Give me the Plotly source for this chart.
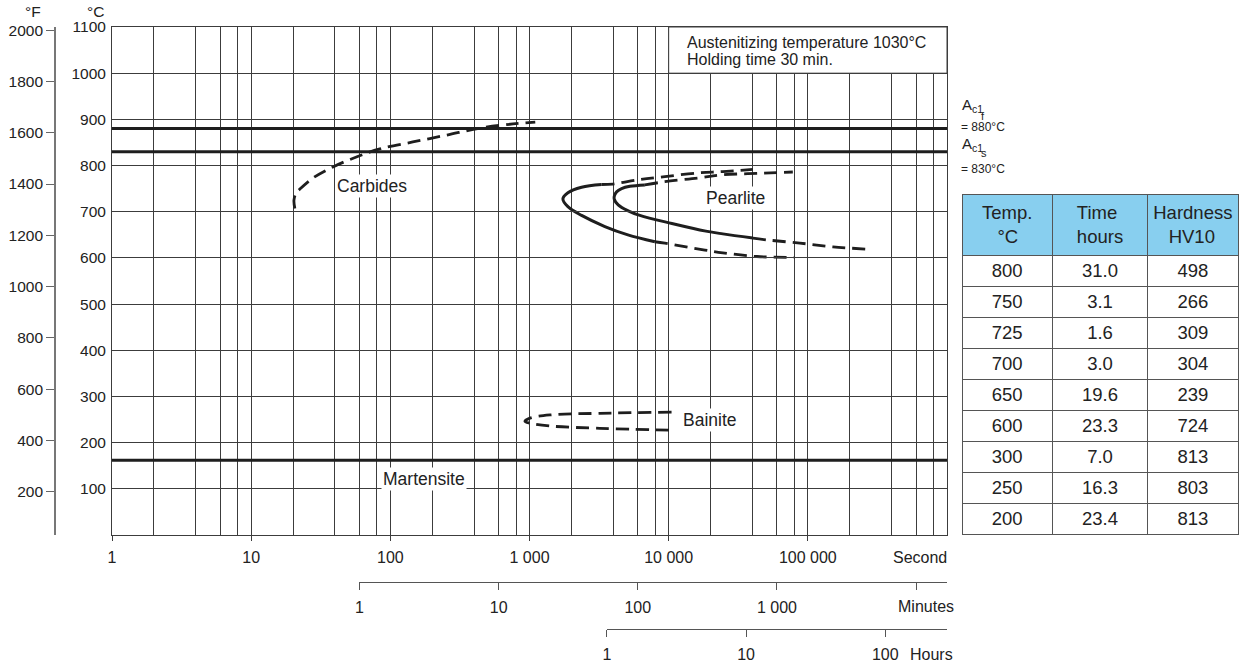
import math
import plotly.graph_objects as go

W, H = 1241, 663

# ---------------- data ----------------
x_tick_vals = [1, 10, 100, 1000, 10000, 100000]
x_tick_text = ["1", "10", "100", "1 000", "10 000", "100 000"]
x_minor_grid = [m * 10 ** e for e in range(0, 6) for m in (2, 4, 6, 8)]
y_tick_vals = [100, 200, 300, 400, 500, 600, 700, 800, 900, 1000, 1100]
f_tick_vals = [200, 400, 600, 800, 1000, 1200, 1400, 1600, 1800, 2000]
min_tick_vals = [1, 10, 100, 1000, 10000]
min_tick_text = ["1", "10", "100", "1 000", " "]
hour_tick_vals = [1, 10, 100]
hour_tick_text = ["1", "10", "100"]

ac1f = 880
ac1s = 830
ms = 162

carb_t = [20.6, 20.3, 21.0, 22.4, 27.8, 38.7, 57.6, 84, 145, 255, 440, 760, 1100]
carb_T = [707, 725, 740, 749, 773, 797, 819, 836, 851, 866, 881, 890, 894]

pear_out_solid_t = [3296, 2367, 1888, 1738, 1888, 2367, 3480, 5093, 7962]
pear_out_solid_T = [759, 753, 741, 728, 711, 692, 668, 650, 635]
pear_out_up_t = [3296, 3973, 6010, 9393, 16220, 24500, 40270]
pear_out_up_T = [759, 760, 769, 776, 784, 787, 791.5]
pear_out_lo_t = [7962, 9393, 18200, 24500, 43030, 80000]
pear_out_lo_T = [635, 632, 617, 611, 603, 601]

pear_in_solid_t = [6745, 5265, 4590, 4225, 4080, 4058, 4337, 5117, 6210, 10550, 18500, 24500, 40270]
pear_in_solid_T = [758, 755, 750, 743, 735, 728, 715, 702, 692, 674.5, 658, 652, 643]
pear_in_up_t = [6745, 9393, 16220, 24500, 43030, 78000]
pear_in_up_T = [758, 765, 773, 780, 783, 786]
pear_in_lo_t = [40270, 50750, 87640, 151300, 265300]
pear_in_lo_T = [643, 639, 632, 624, 619]

bain_t = [10490, 3206, 1402, 1007, 927, 1007, 1402, 3206, 10490]
bain_T = [266, 263.5, 260, 253, 246, 242, 236, 231, 227]

NB = "\u00a0"
table_header = ["Temp.<br>" + NB * 3 + "°C", "Time<br>hours", "Hardness<br>" + NB * 3 + "HV10"]
table_temp = [800, 750, 725, 700, 650, 600, 300, 250, 200]
table_time = ["31.0", "3.1", "1.6", "3.0", "19.6", "23.3", "7.0", "16.3", "23.4"]
table_hv = [498, 266, 309, 304, 239, 724, 813, 803, 813]

# ---------------- layout helpers (pixel -> paper) ----------------
PL, PR, PT, PB = 112, 947, 27, 535


def px(x):
    return x / W


def py(y):
    return 1 - y / H


INK = "#1e1e1e"
GRID = "#3c3c3c"
FONT = "Liberation Sans, Arial, sans-serif"
DASH = "13px,7px"

fig = go.Figure()


def curve(t, T, dash=None, width=3):
    fig.add_trace(go.Scatter(
        x=t, y=T, mode="lines", line_shape="spline",
        line=dict(color=INK, width=width, dash=dash),
        hoverinfo="skip", showlegend=False))


# horizontal thick lines
for level in (ac1f, ac1s, ms):
    fig.add_trace(go.Scatter(x=[1, 1e6], y=[level, level], mode="lines",
                             line=dict(color=INK, width=3),
                             hoverinfo="skip", showlegend=False))

curve(carb_t, carb_T, dash=DASH, width=2.8)
curve(pear_out_solid_t, pear_out_solid_T)
curve(pear_out_up_t, pear_out_up_T, dash=DASH, width=2.8)
curve(pear_out_lo_t, pear_out_lo_T, dash=DASH, width=2.8)
curve(pear_in_solid_t, pear_in_solid_T)
curve(pear_in_up_t, pear_in_up_T, dash=DASH, width=2.8)
curve(pear_in_lo_t, pear_in_lo_T, dash=DASH, width=2.8)
curve(bain_t, bain_T, dash=DASH, width=2.8)

# dummy traces so the extra axes render
fig.add_trace(go.Scatter(x=[1], y=[0], xaxis="x2", yaxis="y", mode="markers",
                         marker=dict(opacity=0), hoverinfo="skip", showlegend=False))
fig.add_trace(go.Scatter(x=[1], y=[0], xaxis="x3", yaxis="y", mode="markers",
                         marker=dict(opacity=0), hoverinfo="skip", showlegend=False))
fig.add_trace(go.Scatter(x=[1], y=[100], xaxis="x", yaxis="y2", mode="markers",
                         marker=dict(opacity=0), hoverinfo="skip", showlegend=False))

# table
fig.add_trace(go.Table(
    domain=dict(x=[px(962), px(1238)], y=[py(536), py(194)]),
    columnwidth=[90, 95, 90],
    header=dict(values=table_header,
                fill_color="#88CFEF", line=dict(color="#555", width=1),
                align="center", height=60,
                font=dict(family=FONT, size=18.5, color="#222")),
    cells=dict(values=[table_temp, table_time, table_hv],
               fill_color="white", line=dict(color="#555", width=1),
               align="center", height=31,
               font=dict(family=FONT, size=18.5, color="#222")),
))

x_dom = [px(PL), px(PR)]
y_dom = [py(PB), py(PT)]

fig.update_layout(
    width=W, height=H, autosize=False,
    margin=dict(l=0, r=0, t=0, b=0, pad=0),
    paper_bgcolor="white", plot_bgcolor="rgba(0,0,0,0)",
    font=dict(family=FONT, size=16, color="#222"),
    showlegend=False,
    xaxis=dict(type="log", domain=x_dom, range=[0, 6], anchor="y", automargin=False,
               tickmode="array", tickvals=x_tick_vals, ticktext=x_tick_text,
               ticks="outside", ticklen=5, tickcolor=GRID, tickwidth=1,
               showgrid=True, gridcolor=GRID, gridwidth=1,
               minor=dict(tickmode="array", tickvals=x_minor_grid, showgrid=True,
                          gridcolor=GRID, gridwidth=1, ticks=""),
               showline=True, mirror=True, linecolor=GRID, linewidth=1,
               zeroline=False, tickfont=dict(size=16), ticklabelstandoff=3),
    yaxis=dict(domain=y_dom, range=[0, 1100], anchor="x", automargin=False,
               tickmode="array", tickvals=y_tick_vals,
               ticks="", showgrid=True, gridcolor=GRID, gridwidth=1,
               showline=True, mirror=True, linecolor=GRID, linewidth=1,
               zeroline=False, tickfont=dict(size=15.5), ticklabelstandoff=2),
    yaxis2=dict(overlaying="y", anchor="free", position=px(55), side="left",
                range=[32, 32 + 1100 * 1.8], automargin=False,
                tickmode="array", tickvals=f_tick_vals,
                ticks="outside", ticklen=8, tickcolor="#666", tickwidth=1.2,
                showline=True, linecolor="#777", linewidth=1.6,
                showgrid=False, zeroline=False, tickfont=dict(size=15.5)),
    xaxis2=dict(type="log", domain=[px(PL + math.log10(60) * (PR - PL) / 6), px(PR)],
                range=[0, 6 - math.log10(60)], anchor="free", position=py(582),
                automargin=False,
                tickmode="array", tickvals=min_tick_vals, ticktext=min_tick_text,
                ticks="outside", ticklen=7, tickcolor="#555",
                showline=True, linecolor="#555", linewidth=1,
                showgrid=False, zeroline=False, tickfont=dict(size=16),
                ticklabelstandoff=4),
    xaxis3=dict(type="log", domain=[px(PL + math.log10(3600) * (PR - PL) / 6), px(PR)],
                range=[0, 6 - math.log10(3600)], anchor="free", position=py(629),
                automargin=False,
                tickmode="array", tickvals=hour_tick_vals, ticktext=hour_tick_text,
                ticks="outside", ticklen=7, tickcolor="#555",
                showline=True, linecolor="#555", linewidth=1,
                showgrid=False, zeroline=False, tickfont=dict(size=16),
                ticklabelstandoff=4),
)

# white box for austenitizing note
fig.add_shape(type="rect", xref="x", yref="y", x0=1e4, x1=1e6, y0=1000, y1=1100,
              fillcolor="white", line=dict(color=GRID, width=1), layer="between")

ann = []


def note(text, x, y, size=16, xanchor="center", xref="paper", yref="paper", bg=None, yanchor="middle"):
    d = dict(text=text, x=x, y=y, xref=xref, yref=yref, showarrow=False,
             xanchor=xanchor, yanchor=yanchor, font=dict(family=FONT, size=size, color="#222"))
    if bg:
        d.update(bgcolor=bg, borderpad=1)
    ann.append(d)


note("°F", px(33), py(11), size=15.5)
note("°C", px(95), py(11), size=15.5)
note("Second", px(920), py(557), size=16)
note("Minutes", px(926), py(606), size=16)
note("Hours", px(931), py(654), size=16)
note("Austenitizing temperature 1030°C", px(685), py(42), size=16, xanchor="left")
note("Holding time 30 min.", px(685), py(59), size=16, xanchor="left")

# curve labels (data coords, log x)
note("Carbides", math.log10(74), 756, size=17.5, xref="x", yref="y", bg="white")
note("Pearlite", math.log10(30400), 730, size=17.5, xref="x", yref="y", bg="white")
note("Bainite", math.log10(19800), 249, size=17.5, xref="x", yref="y", bg="white")
note("Martensite", math.log10(174), 121, size=17.5, xref="x", yref="y", bg="white")

# Ac1 labels
note("A<sub>c1</sub>", px(960), py(106), size=15, xanchor="left")
note("f", px(979), py(116), size=11, xanchor="left")
note("= 880°C", px(959), py(127), size=12, xanchor="left")
note("A<sub>c1</sub>", px(960), py(144), size=15, xanchor="left")
note("s", px(979), py(153), size=11, xanchor="left")
note("= 830°C", px(959), py(169), size=12, xanchor="left")

fig.update_layout(annotations=ann)

fig.write_html("out.html", config={"displayModeBar": False},
               post_script="document.body.style.margin='0px';document.body.style.overflow='hidden';")
